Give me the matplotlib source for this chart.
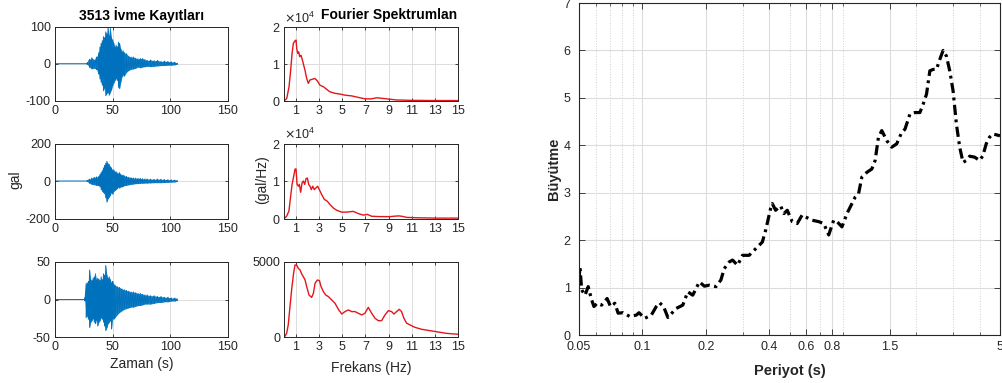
import matplotlib
matplotlib.use("Agg")
import matplotlib.pyplot as plt
from matplotlib.ticker import ScalarFormatter, FixedLocator, NullFormatter

plt.rcParams['font.family'] = ['Liberation Sans', 'DejaVu Sans']
plt.rcParams['axes.unicode_minus'] = False

BLUE = '#0072BD'
RED = '#e3161b'
INK = '#262626'
GRID = '#dcdcdc'

# ---- acceleration records: time (s) with upper / lower extent of the trace (gal)
t1 = [28, 30, 32, 34, 36, 38, 39, 40, 41, 42, 43, 44, 45, 46, 47, 48, 49, 50, 51, 52,
      53, 54, 55, 56, 57, 58, 59, 60, 62, 64, 66, 68, 70, 72, 74, 76, 78, 80, 83, 86,
      89, 92, 95, 98, 101, 104, 106]
up1 = [2, 12, 16, 10, 18, 30, 45, 55, 62, 73, 70, 86, 80, 98, 75, 95, 70, 64, 55, 45,
       50, 45, 58, 55, 40, 32, 35, 30, 27, 20, 18, 18, 15, 13, 14, 14, 11, 9, 10, 8,
       9, 6, 7, 6, 5, 4, 1]
lo1 = [-2, -10, -14, -12, -16, -28, -41, -50, -58, -73, -65, -86, -80, -78, -85, -77, -70, -59, -52, -45,
       -40, -45, -64, -67, -50, -36, -30, -34, -23, -18, -15, -14, -12, -9, -11, -9, -8, -7, -8, -7,
       -6, -5, -5, -4, -4, -3, -1]

t2 = t1
up2 = [3, 10, 16, 20, 22, 25, 35, 45, 55, 70, 84, 95, 105, 92, 88, 75, 70, 57, 60, 48,
       50, 42, 39, 45, 35, 30, 32, 28, 25, 20, 18, 16, 15, 14, 14, 12, 11, 11, 10, 9,
       10, 9, 8, 7, 6, 5, 2]
lo2 = [-3, -12, -18, -20, -23, -24, -30, -45, -55, -62, -68, -90, -112, -94, -85, -76, -60, -70, -55, -50,
       -45, -40, -32, -38, -30, -32, -28, -25, -23, -20, -18, -16, -14, -14, -12, -12, -11, -11, -10, -9,
       -9, -9, -8, -7, -6, -5, -2]

t3 = [26, 27, 28, 29, 30, 31, 32, 33, 34, 35, 36, 37, 38, 39, 40, 41, 42, 43, 44, 45,
      46, 47, 48, 49, 50, 51, 52, 54, 56, 58, 60, 62, 64, 66, 68, 70, 72, 74, 76, 78,
      80, 83, 86, 89, 92, 95, 98, 101, 104, 106]
up3 = [2, 21, 22, 24, 39, 26, 25, 28, 30, 34, 26, 28, 27, 25, 30, 26, 34, 32, 45, 32,
       28, 30, 26, 22, 24, 20, 19, 17, 16, 14, 13, 12, 11, 10, 10, 9, 8, 8, 7, 6,
       6, 5, 5, 4, 4, 3, 3, 2, 2, 1]
lo3 = [-2, -24, -22, -26, -37, -30, -28, -25, -30, -32, -27, -35, -30, -28, -24, -26, -30, -35, -41, -37,
       -32, -30, -28, -39, -25, -26, -24, -20, -17, -15, -13, -12, -11, -10, -10, -9, -8, -8, -7, -6,
       -6, -6, -5, -4, -4, -3, -3, -2, -2, -1]

# ---- Fourier amplitude spectra: frequency (Hz), amplitude (gal/Hz)
f1 = [0, 0.21, 0.41, 0.55, 0.67, 0.78, 0.93, 1.01, 1.07, 1.16, 1.24, 1.33, 1.44, 1.56, 1.67, 1.78,
      1.93, 2.07, 2.21, 2.41, 2.64, 2.84, 3.07, 3.36, 3.64, 3.93, 4.36, 4.79, 5.22, 5.80, 6.37,
      6.95, 7.52, 7.95, 8.53, 9.10, 9.68, 10.83, 12.6, 15.0]
s1 = [0, 600, 3800, 8300, 12800, 15500, 16200, 16400, 14100, 12800, 13200, 11900, 12300, 11000, 9600, 8300,
      6000, 4700, 5600, 5800, 6000, 5400, 4200, 3800, 3100, 2400, 2000, 1800, 1500, 1300, 900,
      500, 500, 800, 600, 400, 200, 100, 50, 30]

f2 = [0, 0.2, 0.4, 0.55, 0.67, 0.78, 0.93, 1.01, 1.1, 1.21, 1.3, 1.41, 1.53, 1.64, 1.76, 1.87,
      1.99, 2.1, 2.22, 2.33, 2.45, 2.59, 2.74, 2.88, 3.02, 3.22, 3.45, 3.71, 3.94, 4.23, 4.51,
      4.94, 5.37, 5.95, 6.38, 6.81, 7.16, 7.53, 8.25, 9.11, 9.83, 10.12, 10.55, 11.41, 13.1, 15.0]
s2 = [0, 600, 2000, 6000, 9100, 10800, 13200, 13200, 9100, 8600, 9100, 7000, 9500, 10000, 9100, 10600,
      10800, 9100, 8600, 7700, 8600, 7700, 8200, 8600, 7700, 6400, 5100, 4600, 3700, 2800, 2200,
      1700, 1700, 1900, 1300, 900, 1100, 600, 500, 500, 700, 600, 300, 200, 100, 100]

f3 = [0, 0.2, 0.34, 0.49, 0.63, 0.78, 0.92, 1.07, 1.21, 1.36, 1.5, 1.64, 1.79, 1.93, 2.13, 2.36,
      2.51, 2.65, 2.85, 3.03, 3.17, 3.37, 3.57, 3.8, 4.09, 4.37, 4.66, 4.95, 5.23, 5.52, 5.81,
      6.09, 6.38, 6.67, 6.95, 7.24, 7.53, 7.82, 8.1, 8.39, 8.68, 8.97, 9.25, 9.45, 9.68, 9.91,
      10.11, 10.31, 10.55, 10.83, 11.26, 11.83, 12.55, 13.27, 13.99, 15.0]
s3 = [0, 260, 820, 2030, 3130, 4120, 4780, 4780, 4560, 4450, 4190, 4010, 3790, 3350, 2800, 2640,
      2910, 3570, 3790, 3750, 3350, 3020, 2800, 2690, 2470, 2250, 1850, 1540, 1700, 1810, 1700,
      1700, 1590, 1480, 1590, 1980, 1590, 1260, 1100, 1100, 1480, 1760, 1700, 1540, 1700, 1850,
      1700, 1260, 930, 820, 660, 530, 440, 350, 260, 200]

# ---- amplification spectrum
period = [0.0500, 0.0505, 0.0515, 0.0534, 0.0553, 0.0574, 0.0589, 0.0610, 0.0640, 0.0680,
          0.0706, 0.0740, 0.0767, 0.0810, 0.0871, 0.0936, 0.0964, 0.1025, 0.1103, 0.1164,
          0.1207, 0.1261, 0.1322, 0.1447, 0.1556, 0.1643, 0.1735, 0.1866, 0.1970, 0.2080,
          0.2237, 0.2361, 0.2449, 0.2586, 0.2682, 0.2832, 0.2990, 0.3214, 0.3456, 0.3715,
          0.3853, 0.4068, 0.4142, 0.4296, 0.4537, 0.4704, 0.4878, 0.5151, 0.5439, 0.5743,
          0.5955, 0.6403, 0.6885, 0.7271, 0.7677, 0.8107, 0.8407, 0.8876, 0.9373, 0.9898,
          1.0263, 1.0643, 1.1035, 1.1653, 1.2303, 1.2758, 1.3229, 1.3719, 1.4485, 1.5294,
          1.6148, 1.7054, 1.7684, 1.8672, 1.9716, 2.0817, 2.1587, 2.2384, 2.3211, 2.4068,
          2.4958, 2.5880, 2.6835, 2.7826, 2.8854, 2.9923, 3.1030, 3.2175, 3.3363, 3.4594,
          3.5873, 3.7876, 3.9992, 4.1466, 4.2996, 4.4586, 4.6235, 5.0]
amplification = [1.16, 1.44, 0.95, 0.84, 1.02, 0.74, 0.60, 0.67, 0.63, 0.77,
                 0.60, 0.67, 0.46, 0.47, 0.39, 0.42, 0.47, 0.35, 0.42, 0.60,
                 0.68, 0.60, 0.37, 0.56, 0.63, 0.91, 0.84, 1.12, 1.03, 1.05,
                 1.02, 1.16, 1.40, 1.54, 1.58, 1.47, 1.68, 1.68, 1.82, 1.96,
                 2.21, 2.67, 2.77, 2.63, 2.72, 2.56, 2.63, 2.39, 2.35, 2.53,
                 2.49, 2.42, 2.39, 2.35, 2.11, 2.42, 2.39, 2.28, 2.56, 2.77,
                 2.91, 2.98, 3.33, 3.43, 3.50, 3.68, 4.17, 4.31, 4.10, 3.96,
                 4.03, 4.27, 4.34, 4.66, 4.69, 4.69, 4.87, 5.08, 5.57, 5.60,
                 5.60, 5.81, 6.00, 5.88, 5.57, 5.15, 4.45, 3.96, 3.64, 3.68,
                 3.77, 3.75, 3.68, 3.78, 4.03, 4.17, 4.24, 4.20]

period_major = [0.05, 0.1, 0.2, 0.4, 0.6, 0.8, 1.5, 5]
period_labels = ['0.05', '0.1', '0.2', '0.4', '0.6', '0.8', '1.5', '5']
period_minor = [0.06, 0.07, 0.08, 0.09, 0.3, 0.5, 0.7, 0.9, 2, 3, 4]

W, H = 1003, 383
fig = plt.figure(figsize=(W / 100, H / 100), dpi=100)

TICK_FS = 9
LABEL_FS = 10


def box(l, t, r, b):
    return fig.add_axes([l / W, 1 - b / H, (r - l) / W, (b - t) / H])


def style(ax):
    for s in ax.spines.values():
        s.set_color(INK)
        s.set_linewidth(0.7)
    ax.tick_params(direction='in', length=2.5, width=0.6, colors=INK, labelsize=TICK_FS,
                   top=True, right=True, pad=3)
    ax.grid(True, color=GRID, lw=0.7)
    ax.set_axisbelow(True)


rows = [(26.7, 100.7), (143.5, 218.5), (261.7, 337.3)]
records = [(t1, up1, lo1, 100), (t2, up2, lo2, 200), (t3, up3, lo3, 50)]
spectra = [(f1, s1), (f2, s2), (f3, s3)]

for i, ((top, bot), (t, up, lo, lim), (f, s)) in enumerate(zip(rows, records, spectra)):
    # time history
    ax = box(55, top, 228, bot)
    style(ax)
    xs = [0, t[0]]
    ys = [0, 0]
    for ti, u, l in zip(t, up, lo):
        xs += [ti, ti]
        ys += [u, l]
    ax.fill_between(t, lo, up, color=BLUE, lw=0, alpha=0.9)
    ax.plot(xs, ys, color=BLUE, lw=0.7)
    ax.set_xlim(0, 150)
    ax.set_ylim(-lim, lim)
    ax.set_xticks([0, 50, 100, 150])
    ax.set_yticks([-lim, 0, lim])

    # Fourier amplitude
    ax2 = box(284.3, top, 458.3, bot)
    style(ax2)
    ax2.plot(f, s, color=RED, lw=1.0)
    ax2.set_xlim(0, 15)
    ax2.set_xticks([1, 3, 5, 7, 9, 11, 13, 15])
    if i < 2:
        ax2.set_ylim(0, 20000)
        ax2.set_yticks([0, 10000, 20000])
        fmt = ScalarFormatter(useMathText=True)
        fmt.set_powerlimits((0, 0))
        ax2.yaxis.set_major_formatter(fmt)
        ax2.yaxis.get_offset_text().set_fontsize(TICK_FS)
        ax2.yaxis.get_offset_text().set_color(INK)
    else:
        ax2.set_ylim(0, 5000)
        ax2.set_yticks([0, 5000])

fig.text(141.5 / W, 1 - 15 / H, '3513 İvme Kayıtları', ha='center', va='center',
         fontsize=LABEL_FS, fontweight='bold', color='black')
fig.text(389 / W, 1 - 15 / H, 'Fourier Spektrumlan', ha='center', va='center',
         fontsize=LABEL_FS, fontweight='bold', color='black')
fig.text(15 / W, 1 - 180 / H, 'gal', rotation=90, ha='center', va='center',
         fontsize=LABEL_FS, color=INK)
fig.text(262 / W, 1 - 180 / H, '(gal/Hz)', rotation=90, ha='center', va='center',
         fontsize=LABEL_FS, color=INK)
fig.text(141.5 / W, 1 - 364 / H, 'Zaman (s)', ha='center', va='center',
         fontsize=LABEL_FS, color=INK)
fig.text(371.5 / W, 1 - 368 / H, 'Frekans (Hz)', ha='center', va='center',
         fontsize=LABEL_FS, color=INK)

# amplification vs period
ax3 = box(579, 3, 1000, 335)
for s in ax3.spines.values():
    s.set_color(INK)
    s.set_linewidth(0.8)
ax3.set_xscale('log')
ax3.plot(period, amplification, color='black', lw=2.3, linestyle=(0, (3.2, 1.4, 0.9, 1.4)))
ax3.set_xlim(0.05, 5)
ax3.set_ylim(0, 7)
ax3.xaxis.set_major_locator(FixedLocator(period_major))
ax3.set_xticklabels(period_labels)
ax3.xaxis.set_minor_locator(FixedLocator(period_minor))
ax3.xaxis.set_minor_formatter(NullFormatter())
ax3.set_yticks(range(0, 8))
ax3.tick_params(which='both', direction='in', colors=INK, labelsize=9, top=True, right=True)
ax3.tick_params(axis='x', pad=4)
ax3.tick_params(axis='y', pad=6)
ax3.tick_params(which='major', length=4, width=0.6)
ax3.tick_params(which='minor', length=2.5, width=0.5)
ax3.grid(True, which='major', color=GRID, lw=0.8)
ax3.grid(True, which='minor', axis='x', color='#d0d0d0', lw=0.7, linestyle=':')
ax3.set_axisbelow(True)
ax3.set_xlabel('Periyot (s)', fontsize=10.5, fontweight='bold', color=INK, labelpad=8)
ax3.set_ylabel('Büyütme', fontsize=10.5, fontweight='bold', color=INK, labelpad=2)

fig.savefig('out.png', dpi=100, facecolor='white')
